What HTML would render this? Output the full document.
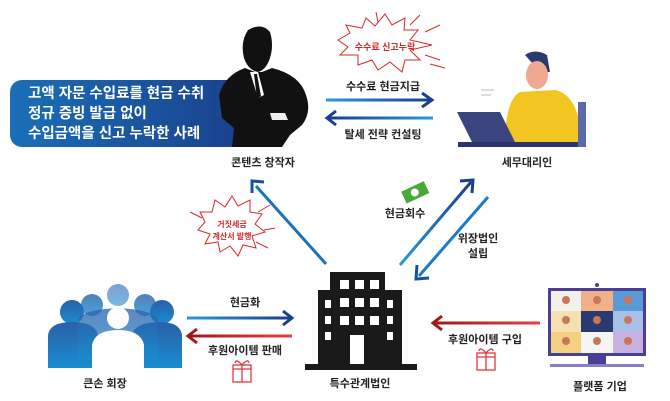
<!DOCTYPE html>
<html><head><meta charset="utf-8"><style>
body{margin:0;background:#fff}
svg{display:block}
text{font-family:"Liberation Sans","Noto Sans CJK KR",sans-serif;font-weight:bold}
</style></head><body>
<svg width="670" height="401" viewBox="0 0 670 401" xmlns="http://www.w3.org/2000/svg">
<defs>
<linearGradient id="bg" x1="0" x2="1"><stop offset="0" stop-color="#1a6fb8"/><stop offset="1" stop-color="#1a3f8a"/></linearGradient>
<linearGradient id="ab" x1="0" x2="1"><stop offset="0" stop-color="#2a9ad8"/><stop offset="1" stop-color="#1a3f8f"/></linearGradient>
<linearGradient id="abr" x1="1" x2="0"><stop offset="0" stop-color="#2a9ad8"/><stop offset="1" stop-color="#1a3f8f"/></linearGradient>
<linearGradient id="ar" x1="1" x2="0"><stop offset="0" stop-color="#e64040"/><stop offset="1" stop-color="#a01a1a"/></linearGradient>
<linearGradient id="ad" gradientUnits="userSpaceOnUse" x1="400" y1="265" x2="471" y2="182"><stop offset="0" stop-color="#2a9ad8"/><stop offset="1" stop-color="#1a3f8f"/></linearGradient>
<linearGradient id="pg" x1="0" y1="0" x2="0" y2="1"><stop offset="0" stop-color="#2a5fa8"/><stop offset="1" stop-color="#1a8cd0"/></linearGradient>
</defs>
<!-- blue box -->
<rect x="10" y="80" width="240" height="67" rx="12" fill="url(#bg)"/>
<text x="28" y="98" fill="#fff" font-size="14.5" font-weight="normal">고액 자문 수입료를 현금 수취</text>
<text x="28" y="118" fill="#fff" font-size="14.5" font-weight="normal">정규 증빙 발급 없이</text>
<text x="28" y="138" fill="#fff" font-size="14.5" font-weight="normal">수입금액을 신고 누락한 사례</text>
<!-- man silhouette -->
<path d="M248 30 Q262 22 270 32 Q274 45 270 58 Q266 70 258 72 Q248 70 244 58 Q240 42 248 30Z" fill="#111"/>
<path d="M219 95 Q225 75 245 68 L255 72 L262 72 L272 68 Q300 75 306 95 Q312 112 302 125 L290 135 L282 147 L232 147 L234 128 L222 118 Z" fill="#111"/>
<path d="M250 72 L258 72 L264 95 L258 98Z" fill="#fff"/>
<path d="M254 74 L257 74 L261 96 L257 99Z" fill="#111"/>
<path d="M270 113 L285 113 L288 120 L272 120Z" fill="#eee"/>
<text x="263" y="166" font-size="11" text-anchor="middle" fill="#222">콘텐츠 창작자</text>
<!-- burst 1 -->
<g stroke="#d42a2a" stroke-width="1" fill="#fff">
<path d="M338 40 L350 33 L346 25 L362 28 L366 18 L375 26 L385 14 L392 25 L405 18 L404 30 L418 30 L410 40 L432 45 L410 50 L420 60 L405 60 L402 72 L390 62 L378 70 L372 60 L358 65 L358 55 L340 55 L348 47Z"/>
<path d="M376 12 L378 22 M420 15 L410 25 M440 25 L425 32 M440 60 L425 55 M445 68 L430 64" fill="none"/>
</g>
<text x="385" y="50" font-size="9" text-anchor="middle" fill="#d42a2a">수수료 신고누락</text>
<text x="383" y="90" font-size="11" text-anchor="middle" fill="#222">수수료 현금지급</text>
<rect x="326" y="98.5" width="104" height="3" fill="url(#ab)"/>
<path d="M422 93 L432 100 L422 107" fill="none" stroke="#1a3f8f" stroke-width="3"/>
<rect x="329" y="116.5" width="104" height="3" fill="url(#abr)"/>
<path d="M336 111 L327 118 L336 125" fill="none" stroke="#1a3f8f" stroke-width="3"/>
<text x="383" y="138" font-size="11" text-anchor="middle" fill="#222">탈세 전략 컨설팅</text>
<!-- tax agent -->
<path d="M525 55 Q535 48 547 55 L550 72 L540 72Z" fill="#2a3a70"/>
<ellipse cx="537" cy="75" rx="11" ry="14" fill="#f0a890"/>
<path d="M505 145 Q505 100 520 92 L555 90 Q580 95 582 145Z" fill="#f3c520"/>
<rect x="578" y="102" width="8" height="45" fill="#5a6aa8"/>
<path d="M457 112 L500 112 L515 142 L472 142Z" fill="#3a4580"/>
<rect x="458" y="142" width="120" height="5" fill="#2a3570"/>
<rect x="481" y="89" width="13" height="2" fill="#ddd"/><rect x="481" y="94" width="10" height="2" fill="#ddd"/>
<text x="527" y="166" font-size="11" text-anchor="middle" fill="#222">세무대리인</text>
<!-- diagonal arrows -->
<line x1="326" y1="264" x2="256" y2="186" stroke="#1a72b8" stroke-width="3"/>
<path d="M252 193 L252 181 L264 182" fill="none" stroke="#1a4f9f" stroke-width="3"/>
<line x1="400" y1="265" x2="471" y2="182" stroke="url(#ad)" stroke-width="3"/>
<path d="M460 181 L473 180 L472 193" fill="none" stroke="#1a3f8f" stroke-width="3"/>
<line x1="488" y1="197" x2="419" y2="276" stroke="#1a7cc8" stroke-width="3"/>
<path d="M417 265 L416 279 L429 278" fill="none" stroke="#1a4f9f" stroke-width="3"/>
<!-- money -->
<g transform="rotate(-25 415 193)"><rect x="403" y="186" width="25" height="13" fill="#4aa838"/><circle cx="415" cy="192.5" r="4" fill="#fff"/></g>
<text x="405" y="217" font-size="11" text-anchor="middle" fill="#222">현금회수</text>
<text x="478" y="242" font-size="11" text-anchor="middle" fill="#222">위장법인</text>
<text x="478" y="257" font-size="11" text-anchor="middle" fill="#222">설립</text>
<!-- burst 2 -->
<g stroke="#d42a2a" stroke-width="1" fill="#fff">
<path d="M205 222 L200 212 L212 212 L215 200 L225 207 L232 196 L238 206 L250 200 L250 212 L262 214 L255 224 L265 232 L252 236 L256 248 L243 245 L238 256 L230 246 L220 252 L218 242 L205 244 L210 234 L198 230Z"/>
<path d="M190 212 L202 218 M270 205 L258 212 M275 228 L264 230 M268 248 L256 242" fill="none"/>
</g>
<text x="232" y="227" font-size="8" text-anchor="middle" fill="#d42a2a">거짓세금</text>
<text x="232" y="239" font-size="8" text-anchor="middle" fill="#d42a2a">계산서 발행</text>
<!-- building -->
<g fill="#1a1a1a">
<rect x="330" y="272" width="55" height="96"/>
<rect x="318" y="290" width="20" height="78"/>
<rect x="378" y="290" width="24" height="78"/>
<rect x="305" y="364" width="112" height="6"/>
</g>
<g fill="#fff">
<rect x="340" y="280" width="9" height="9"/><rect x="355" y="280" width="9" height="9"/><rect x="370" y="280" width="9" height="9"/>
<rect x="340" y="298" width="9" height="9"/><rect x="355" y="298" width="9" height="9"/><rect x="370" y="298" width="9" height="9"/>
<rect x="340" y="316" width="9" height="9"/><rect x="355" y="316" width="9" height="9"/><rect x="370" y="316" width="9" height="9"/>
<rect x="325" y="300" width="6" height="8"/><rect x="325" y="316" width="6" height="8"/><rect x="325" y="332" width="6" height="8"/>
<rect x="387" y="300" width="6" height="8"/><rect x="387" y="316" width="6" height="8"/><rect x="387" y="332" width="6" height="8"/>
<rect x="350" y="335" width="14" height="29"/>
</g>
<text x="360" y="387" font-size="11" text-anchor="middle" fill="#222">특수관계법인</text>
<!-- group -->
<g fill="url(#pg)">
<circle cx="118" cy="295" r="11" opacity="0.6"/>
<circle cx="92" cy="305" r="11" opacity="0.8"/><circle cx="145" cy="305" r="11" opacity="0.8"/>
<circle cx="72" cy="312" r="12"/><circle cx="162" cy="312" r="12"/>
<path d="M48 335 Q50 322 72 322 Q95 322 98 335 L98 368 L48 368Z"/>
<path d="M132 335 Q135 322 160 322 Q180 322 182 335 L182 368 L132 368Z"/>
<path d="M78 320 Q80 310 118 308 Q155 310 158 320 L158 360 L78 360Z" opacity="0.75"/>
</g>
<circle cx="118" cy="318" r="11" fill="#fff"/>
<path d="M92 345 Q95 330 118 330 Q141 330 144 345 L144 368 L92 368Z" fill="#fff"/>
<text x="105" y="387" font-size="11" text-anchor="middle" fill="#222">큰손 회장</text>
<text x="245" y="306" font-size="11" text-anchor="middle" fill="#222">현금화</text>
<rect x="187" y="316.5" width="103" height="3" fill="url(#ab)"/>
<path d="M283 311 L292 318 L283 325" fill="none" stroke="#1a3f8f" stroke-width="3"/>
<rect x="189" y="334.5" width="103" height="3" fill="url(#ar)"/>
<path d="M197 329 L188 336 L197 343" fill="none" stroke="#a01a1a" stroke-width="3"/>
<text x="245" y="354" font-size="11" text-anchor="middle" fill="#222">후원아이템 판매</text>
<g fill="none" stroke="#e03a3a" stroke-width="1.3"><rect x="233" y="365" width="18" height="17"/><line x1="233" y1="369" x2="251" y2="369"/><line x1="242" y1="365" x2="242" y2="382"/><path d="M242 365 Q236 358 235 363 M242 365 Q248 358 249 363"/></g>
<!-- platform -->
<rect x="434" y="321.5" width="106" height="3" fill="url(#ar)"/>
<path d="M442 316 L433 323 L442 330" fill="none" stroke="#a01a1a" stroke-width="3"/>
<text x="485" y="343" font-size="11" text-anchor="middle" fill="#222">후원아이템 구입</text>
<g fill="none" stroke="#e03a3a" stroke-width="1.3"><rect x="477" y="353" width="18" height="17"/><line x1="477" y1="357" x2="495" y2="357"/><line x1="486" y1="353" x2="486" y2="370"/><path d="M486 353 Q480 346 479 351 M486 353 Q492 346 493 351"/></g>
<rect x="548" y="288" width="98" height="68" fill="#4a3f96"/>
<rect x="551" y="291" width="92" height="62" fill="#eee"/>
<g>
<rect x="551" y="291" width="30" height="20" fill="#f5f0ea"/><rect x="581" y="291" width="32" height="20" fill="#f0b088"/><rect x="613" y="291" width="30" height="20" fill="#5a9ad8"/>
<rect x="551" y="311" width="30" height="21" fill="#f5e0b0"/><rect x="581" y="311" width="32" height="21" fill="#2a3a70"/><rect x="613" y="311" width="30" height="21" fill="#a8c0e8"/>
<rect x="551" y="332" width="30" height="21" fill="#f5d080"/><rect x="581" y="332" width="32" height="21" fill="#f5f5f5"/><rect x="613" y="332" width="30" height="21" fill="#c8b0e0"/>
</g>
<g fill="#c87858"><circle cx="566" cy="300" r="4"/><circle cx="597" cy="300" r="4"/><circle cx="628" cy="300" r="4"/><circle cx="566" cy="320" r="4"/><circle cx="597" cy="320" r="4"/><circle cx="628" cy="320" r="4"/><circle cx="566" cy="341" r="4"/><circle cx="597" cy="341" r="4"/><circle cx="628" cy="341" r="4"/></g>
<rect x="588" y="356" width="18" height="8" fill="#4a3f96"/><rect x="550" y="364" width="94" height="3" fill="#8a7fc6"/>
<circle cx="597" cy="285" r="2" fill="#4a3f96"/>
<text x="600" y="390" font-size="11" text-anchor="middle" fill="#222">플랫폼 기업</text>
</svg>
</body></html>
